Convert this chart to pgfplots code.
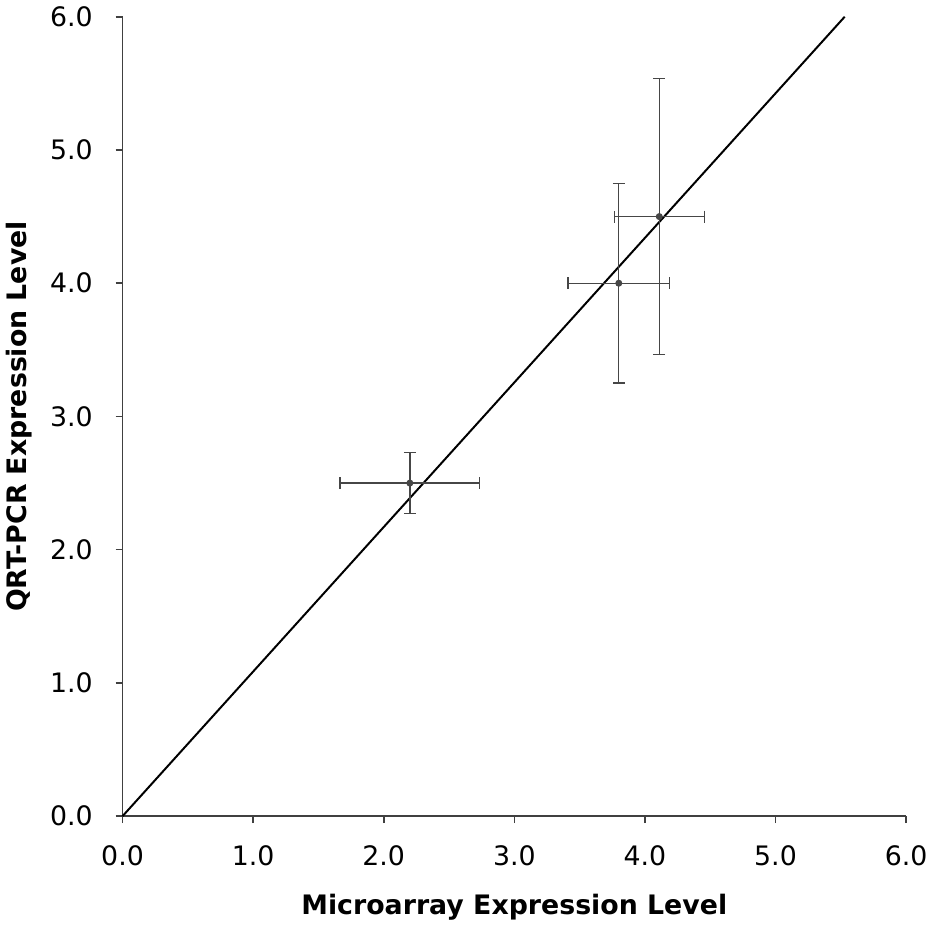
\documentclass[border=0pt]{standalone}
\usepackage{fontspec}
\setmainfont{DejaVu Sans}
\usepackage{pgfplots}
\pgfplotsset{compat=1.18}
\definecolor{bargray}{RGB}{70,70,70}
\begin{document}
\begin{tikzpicture}
\begin{axis}[
    scale only axis,
    width=395pt, height=403pt,
    xmin=0, xmax=6, ymin=0, ymax=6,
    xtick={0,1,...,6}, ytick={0,1,...,6},
    axis x line=bottom, axis y line=left,
    axis line style={-, draw=black!75, line width=0.8pt},
    tick style={draw=black!75, line width=0.8pt},
    tick align=outside,
    major tick length=3.5pt,
    /pgf/number format/.cd, fixed, fixed zerofill, precision=1, assume math mode=true,
    /pgfplots/.cd,
    tick label style={font=\fontsize{13.5}{15}\selectfont},
    xticklabel style={yshift=-8pt},
    yticklabel style={xshift=-8pt},
    xlabel={\textbf{Microarray Expression Level}},
    ylabel={\textbf{QRT-PCR Expression Level}},
    label style={font=\fontsize{13.5}{15}\selectfont},
    xlabel style={yshift=-7pt},
    ylabel style={yshift=2pt},
    clip=false,
]
\addplot[black, line width=1pt] coordinates {(0,0) (5.53,6)};
\addplot[bargray, line width=0.7pt, only marks, mark=*, mark size=1.4pt,
    error bars/.cd, x dir=both, x explicit, y dir=both, y explicit,
    error mark options={rotate=90, mark size=3pt, line width=0.7pt, bargray},
    error bar style={line width=0.7pt, bargray}]
  coordinates {
    (2.20,2.50) +- (0.535,0.23)
    (3.80,4.00) +- (0.39,0.75)
    (4.11,4.50) +- (0.345,1.035)
  };
\end{axis}
\end{tikzpicture}
\end{document}
